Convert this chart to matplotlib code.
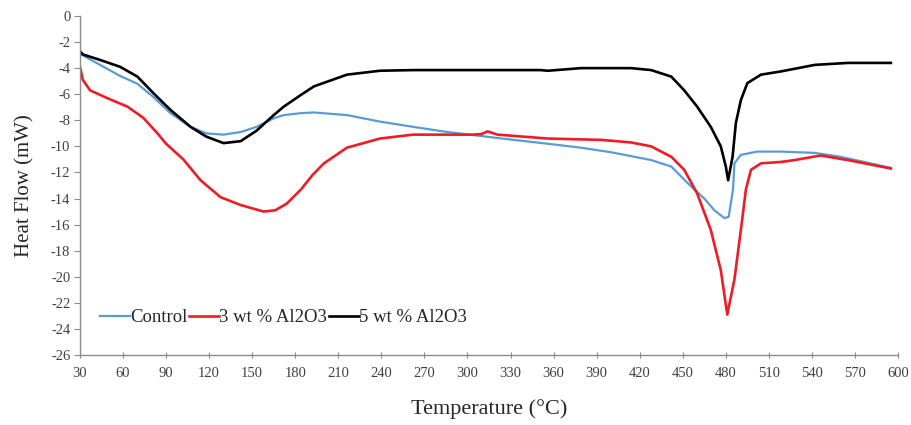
import matplotlib
matplotlib.use("Agg")
import matplotlib.pyplot as plt

# ---- data ----
temps_control = [30, 44, 58, 70, 81, 93, 107, 118, 130, 142, 153, 165, 172, 184, 193, 216, 239,
                 262, 286, 309, 332, 356, 379, 400, 414, 428, 442, 456, 465, 472, 479, 482, 485,
                 486, 490.5, 502, 518, 542, 560, 595]
control = [-2.9, -3.75, -4.6, -5.2, -6.2, -7.45, -8.5, -9.0, -9.1, -8.9, -8.5, -7.85, -7.6, -7.45,
           -7.4, -7.6, -8.1, -8.5, -8.9, -9.2, -9.5, -9.8, -10.1, -10.45, -10.75, -11.05, -11.55,
           -13.1, -14.0, -14.9, -15.5, -15.4, -13.3, -11.3, -10.65, -10.4, -10.4, -10.5, -10.8,
           -11.65]

temps_red = [30, 32, 37, 49, 63, 74, 84, 90, 102, 114, 128, 142, 158, 166, 174, 184, 192, 200,
             216, 239, 262, 304, 310, 314, 321, 356, 393, 414, 428, 442, 451, 460, 469.5, 476.5,
             481, 486, 490.5, 494, 497.5, 504.5, 518, 528, 546, 565, 595]
red = [-3.9, -4.9, -5.7, -6.3, -6.95, -7.8, -9.0, -9.8, -11.0, -12.6, -13.9, -14.5, -15.0, -14.9,
       -14.4, -13.3, -12.2, -11.3, -10.1, -9.4, -9.1, -9.1, -9.05, -8.85, -9.1, -9.4, -9.5, -9.7,
       -10.0, -10.8, -11.8, -13.6, -16.4, -19.5, -22.9, -20.2, -16.4, -13.3, -11.8, -11.3, -11.2,
       -11.05, -10.7, -11.05, -11.7]

temps_black = [30, 32, 44, 58, 70, 81, 93, 107, 118, 130, 142, 153, 165, 172, 184, 193, 216, 239,
               262, 309, 351, 356, 379, 414, 428, 442, 451, 460, 469.5, 476.5, 480, 481.6, 484.7,
               487, 490.5, 495, 504.5, 518.5, 542, 565, 595]
black = [-2.7, -2.95, -3.37, -3.9, -4.65, -5.9, -7.2, -8.5, -9.25, -9.75, -9.6, -8.8, -7.6, -6.95,
         -6.05, -5.4, -4.5, -4.2, -4.15, -4.15, -4.15, -4.2, -4.0, -4.0, -4.15, -4.65, -5.7, -6.95,
         -8.5, -10.0, -11.55, -12.6, -10.8, -8.2, -6.45, -5.15, -4.5, -4.25, -3.75, -3.6, -3.6]

labels = ["Control", "3 wt % Al2O3", "5 wt % Al2O3"]
x_ticks = list(range(30, 601, 30))
y_ticks = list(range(-26, 1, 2))

plt.rcParams['font.family'] = ['Liberation Serif', 'DejaVu Serif']
plt.rcParams['axes.unicode_minus'] = False

fig = plt.figure(figsize=(9.12, 4.25), dpi=100)
ax = fig.add_axes([0.0877, 0.1647, 0.897, 0.7977])

ax.plot(temps_control, control, color='#5B9BD5', lw=1.6, label=labels[0])
ax.plot(temps_red, red, color='#EE1C25', lw=1.9, label=labels[1])
ax.plot(temps_black, black, color='#000000', lw=1.9, label=labels[2])

ax.set_xlim(30, 600)
ax.set_ylim(-26, 0)
ax.set_xticks(x_ticks)
ax.set_yticks(y_ticks)
for s in ['top', 'right']:
    ax.spines[s].set_visible(False)
for s in ['left', 'bottom']:
    ax.spines[s].set_color('#8C8C8C')
    ax.spines[s].set_linewidth(1.0)
ax.tick_params(axis='x', direction='inout', length=5, color='#8C8C8C', labelsize=10.5,
               labelcolor='#404040', pad=6)
ax.tick_params(axis='y', direction='out', length=4, color='#8C8C8C', labelsize=10.5,
               labelcolor='#404040', pad=3)

ax.set_xlabel("Temperature (°C)", fontsize=16, color='#262626', labelpad=14)
ax.set_ylabel("Heat Flow (mW)", fontsize=15, color='#262626', labelpad=12)

ax.legend(loc='center left', bbox_to_anchor=(0.015, 0.11), ncol=3, frameon=False,
          handlelength=1.6, handletextpad=0.0, columnspacing=0.1, fontsize=13.5,
          labelcolor='#262626', borderaxespad=0)

fig.savefig("out.png", dpi=100)
